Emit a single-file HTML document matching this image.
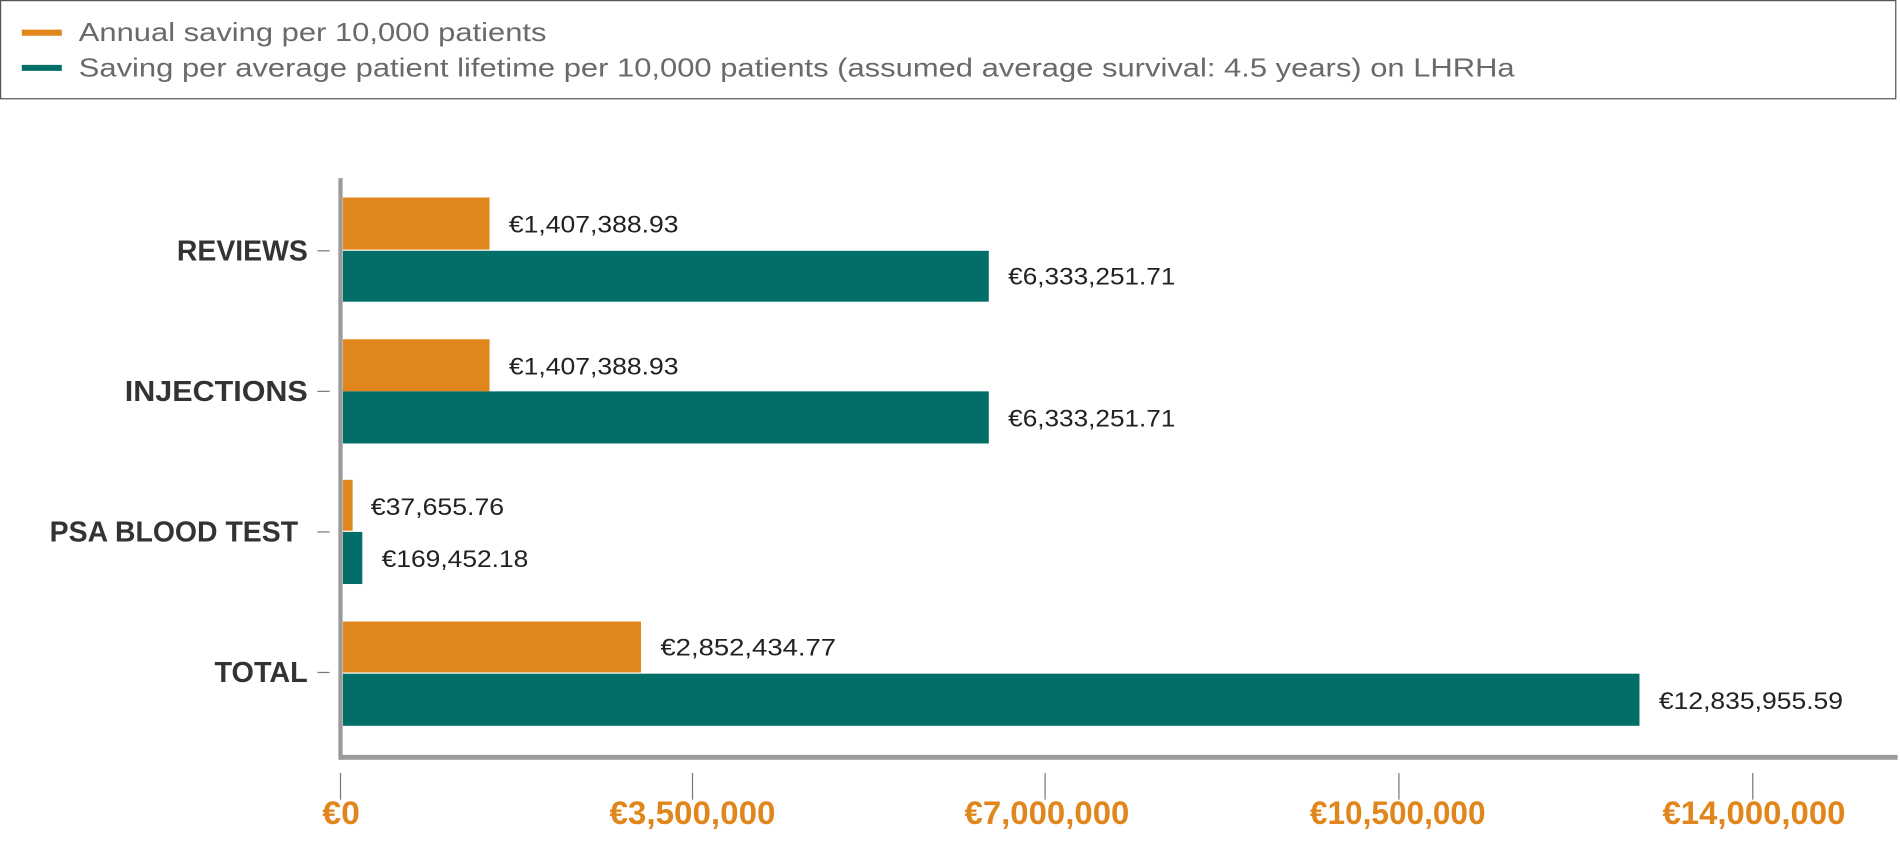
<!DOCTYPE html>
<html><head><meta charset="utf-8"><style>
html,body{margin:0;padding:0;background:#fff;}
svg{display:block;}
</style></head><body>
<svg width="1900" height="845" viewBox="0 0 1568 697.4" preserveAspectRatio="none" xmlns="http://www.w3.org/2000/svg" font-family="Liberation Sans, sans-serif">
<rect x="0.5" y="0.5" width="1564" height="81" fill="#fff" stroke="#555" stroke-width="1"/>
<line x1="18" y1="27" x2="51" y2="27" stroke="#E0861C" stroke-width="5"/>
<line x1="18" y1="56" x2="51" y2="56" stroke="#016E67" stroke-width="5"/>
<text x="65" y="34" font-size="21" fill="#6a6a6a" textLength="386" lengthAdjust="spacingAndGlyphs">Annual saving per 10,000 patients</text>
<text x="65" y="63" font-size="21" fill="#6a6a6a" textLength="1185" lengthAdjust="spacingAndGlyphs">Saving per average patient lifetime per 10,000 patients (assumed average survival: 4.5 years) on LHRHa</text>

<g fill="#E0861C">
<rect x="283" y="163" width="121" height="43"/>
<rect x="283" y="280" width="121" height="43"/>
<rect x="283" y="396" width="8" height="42"/>
<rect x="283" y="513" width="246" height="42"/>
</g>
<g fill="#016E67">
<rect x="283" y="207" width="533" height="42"/>
<rect x="283" y="323" width="533" height="43"/>
<rect x="283" y="439" width="16" height="43"/>
<rect x="283" y="556" width="1070" height="43"/>
</g>

<g font-size="20" fill="#222">
<text x="420" y="192" textLength="140" lengthAdjust="spacingAndGlyphs">€1,407,388.93</text>
<text x="832" y="235" textLength="138" lengthAdjust="spacingAndGlyphs">€6,333,251.71</text>
<text x="420" y="309" textLength="140" lengthAdjust="spacingAndGlyphs">€1,407,388.93</text>
<text x="832" y="352" textLength="138" lengthAdjust="spacingAndGlyphs">€6,333,251.71</text>
<text x="306" y="425" textLength="110" lengthAdjust="spacingAndGlyphs">€37,655.76</text>
<text x="315" y="468" textLength="121" lengthAdjust="spacingAndGlyphs">€169,452.18</text>
<text x="545" y="541" textLength="145" lengthAdjust="spacingAndGlyphs">€2,852,434.77</text>
<text x="1369" y="585" textLength="152" lengthAdjust="spacingAndGlyphs">€12,835,955.59</text>
</g>

<line x1="281" y1="147" x2="281" y2="627" stroke="#9a9a9a" stroke-width="3.5"/>
<line x1="280" y1="625" x2="1566" y2="625" stroke="#9a9a9a" stroke-width="4"/>
<g stroke="#777" stroke-width="1">
<line x1="281" y1="638" x2="281" y2="660"/>
<line x1="571.5" y1="638" x2="571.5" y2="660"/>
<line x1="862.5" y1="638" x2="862.5" y2="660"/>
<line x1="1154.5" y1="638" x2="1154.5" y2="660"/>
<line x1="1446.5" y1="638" x2="1446.5" y2="660"/>
<line x1="262" y1="207" x2="272" y2="207"/>
<line x1="262" y1="323" x2="272" y2="323"/>
<line x1="262" y1="439" x2="272" y2="439"/>
<line x1="262" y1="555" x2="272" y2="555"/>
</g>
<g font-size="27" font-weight="bold" fill="#E0861C">
<text x="266" y="680" textLength="31" lengthAdjust="spacingAndGlyphs">€0</text>
<text x="503" y="680" textLength="137" lengthAdjust="spacingAndGlyphs">€3,500,000</text>
<text x="796" y="680" textLength="136" lengthAdjust="spacingAndGlyphs">€7,000,000</text>
<text x="1081" y="680" textLength="145" lengthAdjust="spacingAndGlyphs">€10,500,000</text>
<text x="1372" y="680" textLength="151" lengthAdjust="spacingAndGlyphs">€14,000,000</text>
</g>
<g font-size="24" font-weight="bold" fill="#333">
<text x="146" y="215" textLength="108" lengthAdjust="spacingAndGlyphs">REVIEWS</text>
<text x="103" y="331" textLength="151" lengthAdjust="spacingAndGlyphs">INJECTIONS</text>
<text x="41" y="447" textLength="205" lengthAdjust="spacingAndGlyphs">PSA BLOOD TEST</text>
<text x="177" y="563" textLength="77" lengthAdjust="spacingAndGlyphs">TOTAL</text>
</g>
</svg>
</body></html>
